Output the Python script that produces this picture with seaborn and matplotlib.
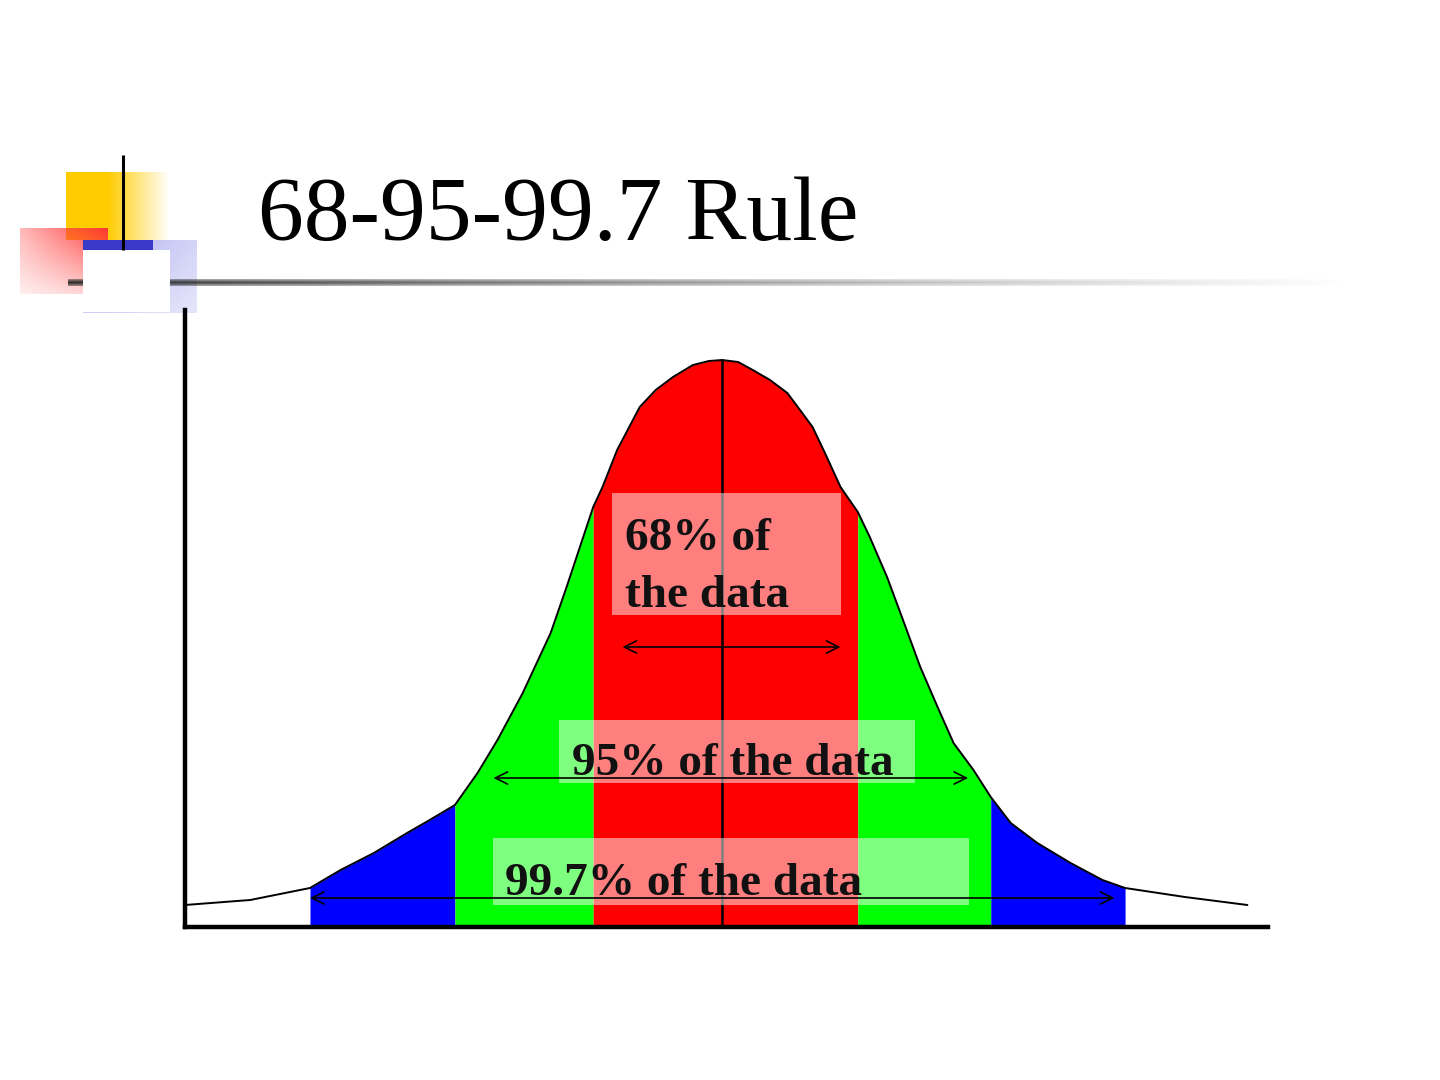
import numpy as np
import pandas as pd
import matplotlib
matplotlib.use("Agg")
import matplotlib.pyplot as plt
from matplotlib.patches import Rectangle
import seaborn as sns

# ---------------- data ----------------
title = "68-95-99.7 Rule"
# curve position in standard deviations, curve height in arbitrary units
curve_x = [-4.04, -3.55, -3.10, -2.87, -2.62, -2.37, -2.20, -2.01, -1.84, -1.69,
           -1.50, -1.29, -1.17, -1.07, -0.97, -0.90, -0.79, -0.62, -0.50, -0.37,
           -0.22, -0.10, 0.00, 0.12, 0.23, 0.36, 0.49, 0.58, 0.68, 0.78,
           0.89, 1.02, 1.11, 1.24, 1.36, 1.49, 1.62, 1.74, 1.89, 2.02,
           2.17, 2.37, 2.62, 2.86, 3.03, 3.48, 3.95]
curve_h = [22, 27, 39, 57, 74, 94, 107, 122, 154, 187,
           234, 294, 340, 380, 420, 440, 477, 520, 537, 550,
           562, 566, 567, 565, 557, 547, 534, 518, 500, 472,
           440, 415, 390, 350, 307, 260, 220, 184, 157, 130,
           104, 84, 64, 47, 39, 30, 22]
band_edges = [-3.10, -2.01, -0.97, 1.02, 2.02, 3.03]
band_colors = ["#0000FF", "#00FF00", "#FF0000", "#00FF00", "#0000FF"]
labels = ["68% of", "the data", "95% of the data", "99.7% of the data"]

# ---------------- figure ----------------
sns.set_theme(style="white")
plt.rcParams["font.family"] = ["Liberation Serif", "DejaVu Serif"]

fig = plt.figure(figsize=(14.4, 10.8), dpi=100)
fig.patch.set_facecolor("white")

# decoration layer in pixel coordinates
deco = fig.add_axes([0, 0, 1, 1], zorder=0)
deco.set_xlim(0, 1440)
deco.set_ylim(1080, 0)
deco.axis("off")


def grad_rect(ax, x0, x1, y0, y1, rgb, alpha_fn, z):
    nx, ny = 120, 80
    tx = np.linspace(0, 1, nx)[None, :].repeat(ny, 0)
    ty = np.linspace(0, 1, ny)[:, None].repeat(nx, 1)
    img = np.zeros((ny, nx, 4))
    img[..., 0] = rgb[0]
    img[..., 1] = rgb[1]
    img[..., 2] = rgb[2]
    img[..., 3] = np.clip(alpha_fn(tx, ty), 0, 1)
    ax.imshow(img, extent=[x0, x1, y1, y0], aspect="auto",
              interpolation="bilinear", zorder=z)


# yellow square
grad_rect(deco, 66, 170, 172, 240, (1.0, 0.80, 0.0),
          lambda tx, ty: np.where(tx < 0.4, 1.0, 1.0 - (tx - 0.4) / 0.6), 1)
# red square
grad_rect(deco, 20, 108, 228, 294, (1.0, 0.22, 0.22),
          lambda tx, ty: (0.35 + 0.65 * tx) * (1.0 - 0.75 * ty), 2)
# lavender square
grad_rect(deco, 83, 197, 240, 313, (0.55, 0.55, 0.92),
          lambda tx, ty: 0.75 * (1.0 - 0.5 * tx) * (1.0 - 0.4 * ty), 3)
deco.add_patch(Rectangle((83, 240), 70, 10, facecolor="#3a3ac8",
                         edgecolor="none", zorder=4))
# horizontal rule fading to white
grad_rect(deco, 68, 1360, 279, 286, (0.15, 0.15, 0.15),
          lambda tx, ty: (1.0 - tx) ** 1.1 * (1.0 - 0.6 * np.abs(ty - 0.5) * 2), 5)
# white square
deco.add_patch(Rectangle((83, 250), 87, 62, facecolor="white",
                         edgecolor="none", zorder=6))
# small vertical line
deco.plot([123, 123], [155, 250], color="black", lw=2.2, zorder=7,
          solid_capstyle="butt")

# title
deco.text(258, 240, title, fontsize=66, color="black", ha="left",
          va="baseline", family=["Liberation Serif", "DejaVu Serif"], zorder=8)

# ---------------- main chart ----------------
ax = fig.add_axes([185 / 1440, 1 - 927 / 1080, (1268 - 185) / 1440,
                   (927 - 310) / 1080], zorder=2)
ax.patch.set_alpha(0)

x = np.array(curve_x)
h = np.array(curve_h)

for lo, hi, col in zip(band_edges[:-1], band_edges[1:], band_colors):
    m = (x >= lo - 1e-9) & (x <= hi + 1e-9)
    ax.fill_between(x[m], 0, h[m], color=col, linewidth=0, zorder=1)

df = pd.DataFrame({"sd": curve_x, "height": curve_h})
sns.lineplot(data=df, x="sd", y="height", sort=False, estimator=None,
             color="black", linewidth=1.4, ax=ax, zorder=3)

# center line
ax.plot([0, 0], [0, max(curve_h)], color="black", lw=1.8, zorder=3)

# semi-transparent label boxes
box_kw = dict(facecolor="white", alpha=0.5, edgecolor="none", zorder=4)
ax.add_patch(Rectangle((-0.83, 312), 1.72, 122, **box_kw))
ax.add_patch(Rectangle((-1.23, 144), 2.68, 63, **box_kw))
ax.add_patch(Rectangle((-1.72, 22), 3.58, 67, **box_kw))

# arrows
arrow_kw = dict(arrowstyle="<->", color="black", lw=1.2,
                mutation_scale=22, shrinkA=0, shrinkB=0)
ax.annotate("", xy=(-0.75, 280), xytext=(0.89, 280), arrowprops=arrow_kw, zorder=5)
ax.annotate("", xy=(-1.72, 149), xytext=(1.85, 149), arrowprops=arrow_kw, zorder=5)
ax.annotate("", xy=(-3.10, 29), xytext=(2.95, 29), arrowprops=arrow_kw, zorder=5)

txt_kw = dict(fontsize=34, fontweight="bold", color="#111111", ha="left",
              va="baseline", family=["Liberation Serif", "DejaVu Serif"], zorder=6)
ax.text(-0.73, 377, labels[0], **txt_kw)
ax.text(-0.73, 320, labels[1], **txt_kw)
ax.text(-1.13, 152, labels[2], **txt_kw)
ax.text(-1.63, 32, labels[3], **txt_kw)

ax.set_xlim(-4.04, 4.105)
ax.set_ylim(0, 617)
ax.set_xticks([])
ax.set_yticks([])
ax.set_xlabel("")
ax.set_ylabel("")
for s in ["top", "right"]:
    ax.spines[s].set_visible(False)
for s in ["left", "bottom"]:
    ax.spines[s].set_visible(True)
    ax.spines[s].set_color("black")
    ax.spines[s].set_linewidth(3.2)

fig.savefig("out.png", dpi=100, facecolor="white")
